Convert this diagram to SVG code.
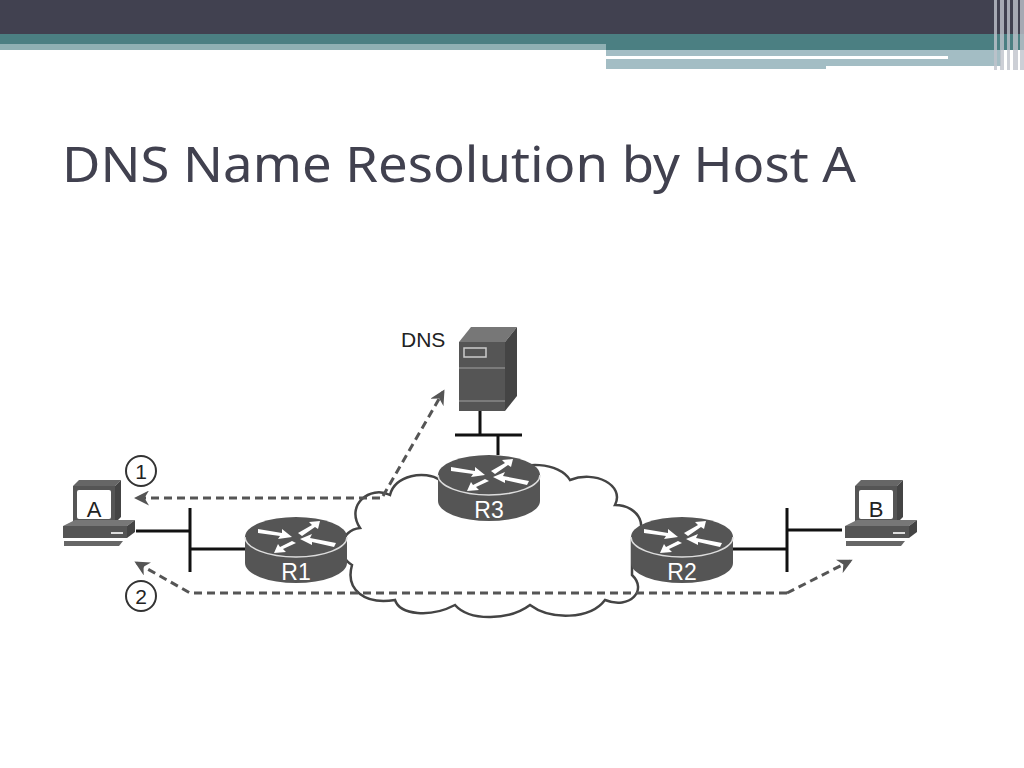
<svg xmlns="http://www.w3.org/2000/svg" width="1024" height="768" viewBox="0 0 1024 768">
<defs>
<style>
.lbl{font-family:"Liberation Sans",Arial,sans-serif;fill:#222}
.rl{font-family:"Liberation Sans",Arial,sans-serif;fill:#fff;font-size:23px;text-anchor:middle}
.dash{fill:none;stroke:#555;stroke-width:3;stroke-dasharray:8 5}
.ln{stroke:#111;stroke-width:3;fill:none}
</style>
<marker id="ah" viewBox="0 0 10 10" refX="8" refY="5" markerWidth="5" markerHeight="5" orient="auto"><path d="M0,0 L10,5 L0,10 L3,5 z" fill="#555"/></marker>
<g id="router">
<path d="M-51,0 L-51,26 A51,20 0 0 0 51,26 L51,0 Z" fill="#555"/>
<ellipse cx="0" cy="0" rx="51" ry="20" fill="#555"/>
<path d="M-51,0 A51,20 0 0 0 51,0" fill="none" stroke="#ddd" stroke-width="1.5"/>
<g fill="#fff">
<path d="M-38,-8 L-14,-4 L-14,-8 L-4,0 L-18,2 L-16,-1 L-38,-4 Z"/>
<path d="M2,-4 L16,-12 L13,-15 L24,-16 L22,-8 L19,-10 L6,-1 Z"/>
<path d="M40,6 L14,1 L16,-3 L4,2 L16,8 L16,5 L38,10 Z"/>
<path d="M-4,4 L-16,10 L-18,7 L-22,16 L-10,15 L-13,12 L0,6 Z"/>
</g>
</g>
<g id="pc">
<path d="M0,0 L42,0 L48,-6 L6,-6 Z" fill="#666"/>
<rect x="0" y="0" width="42" height="37" fill="#555"/>
<path d="M42,0 L48,-6 L48,31 L42,37 Z" fill="#444"/>
<rect x="4" y="4" width="34" height="29" rx="2" fill="#fff"/>
<path d="M-10,40 L54,40 L62,34 L2,34 Z" fill="#777"/>
<rect x="-10" y="40" width="64" height="12" fill="#555"/>
<path d="M54,40 L62,34 L62,46 L54,52 Z" fill="#444"/>
<rect x="38" y="46" width="12" height="2" fill="#ddd"/>
<path d="M-9,55 L50,55 L46,60 L-9,60 Z" fill="#666"/>
</g>
</defs>
<rect width="1024" height="768" fill="#fff"/>
<g id="header">
<rect x="0" y="0" width="1024" height="34" fill="#414150"/>
<rect x="0" y="34" width="1024" height="16" fill="#4b7f82"/>
<rect x="0" y="44" width="606" height="6" fill="#8fb0b3"/>
<rect x="606" y="50" width="395" height="19" fill="#a3bdc4"/>
<rect x="606" y="56" width="342" height="3" fill="#fff"/>
<rect x="826" y="66" width="175" height="3" fill="#fff"/>
<g fill="#c0c4cc" opacity="0.8">
<rect x="994" y="0" width="3" height="70"/><rect x="1000" y="0" width="4" height="70"/><rect x="1007" y="0" width="3" height="70"/><rect x="1013" y="0" width="5" height="70"/><rect x="1020" y="0" width="4" height="70"/>
</g>
</g>
<text x="62" y="182" font-family="'Noto Sans','Open Sans',sans-serif" font-size="50" fill="#41414f" textLength="794" lengthAdjust="spacingAndGlyphs">DNS Name Resolution by Host A</text>
<g id="cloud">
<path d="M352,565 C335,555 340,530 360,528 C345,505 370,485 390,495 C395,475 425,470 440,480 C455,462 490,460 505,475 C520,460 560,462 570,480 C595,470 625,485 615,505 C640,505 650,530 632,540 L632,575 C648,590 630,610 605,600 C590,620 550,620 530,605 C510,620 470,622 455,605 C430,618 400,615 395,600 C365,605 345,590 352,565 Z" fill="#fff" stroke="#444" stroke-width="2.5"/>
</g>
<g id="connectors">
<path class="ln" d="M480,411 V435 M455,435 H522 M498,435 V455"/>
<path class="ln" d="M136,531 H190 M190,508 V572 M190,549 H245"/>
<path class="ln" d="M733,549 H787 M787,508 V572 M787,530 H842"/>
<path class="dash" d="M380,498 H137" marker-end="url(#ah)"/>
<path class="dash" d="M383,496 L443,392" marker-end="url(#ah)"/>
<path class="dash" d="M787,593 H190 L137,563" marker-end="url(#ah)"/>
<path class="dash" d="M787,593 L850,561" marker-end="url(#ah)"/>
</g>
<g id="dns">
<path d="M459,342 L505,342 L517,327 L471,327 Z" fill="#777"/>
<rect x="459" y="342" width="46" height="69" fill="#555"/>
<path d="M505,342 L517,327 L517,396 L505,411 Z" fill="#444"/>
<rect x="464" y="348" width="22" height="9" fill="none" stroke="#ccc" stroke-width="1.5"/>
<line x1="459" y1="368" x2="505" y2="368" stroke="#888" stroke-width="1.5"/>
<line x1="459" y1="401" x2="505" y2="401" stroke="#888" stroke-width="1.5"/>
<text class="lbl" x="401" y="347" font-size="21">DNS</text>
</g>
<g id="R1"><use href="#router" x="296" y="537"/><text class="rl" x="296" y="580">R1</text></g>
<g id="R3"><use href="#router" x="489" y="475"/><text class="rl" x="489" y="518">R3</text></g>
<g id="R2"><use href="#router" x="682" y="537"/><text class="rl" x="682" y="580">R2</text></g>
<g id="hostA"><use href="#pc" x="73" y="486"/><text class="lbl" x="94" y="517" font-size="22" text-anchor="middle">A</text></g>
<g id="hostB"><use href="#pc" x="855" y="486"/><text class="lbl" x="876" y="517" font-size="22" text-anchor="middle">B</text></g>
<g id="steps">
<circle cx="141" cy="471" r="15" fill="#fff" stroke="#333" stroke-width="2"/>
<text class="lbl" x="141" y="479" font-size="21" text-anchor="middle">1</text>
<circle cx="141" cy="596" r="15" fill="#fff" stroke="#333" stroke-width="2"/>
<text class="lbl" x="141" y="604" font-size="21" text-anchor="middle">2</text>
</g>
</svg>
